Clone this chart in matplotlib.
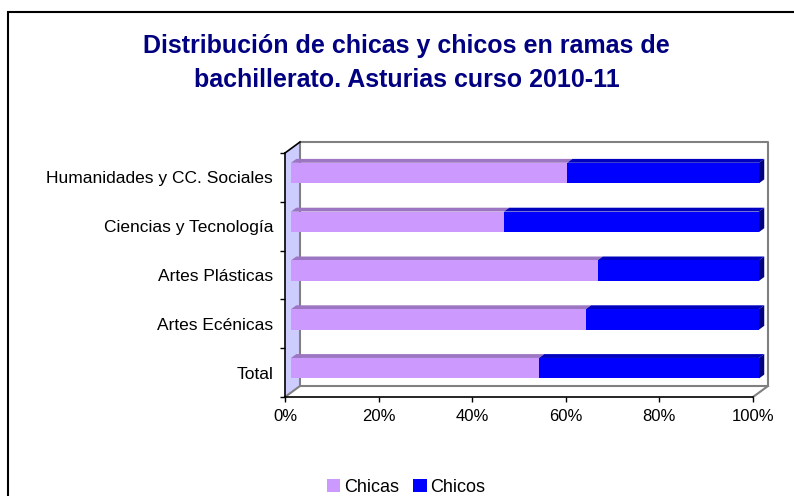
import matplotlib
matplotlib.use("Agg")
import matplotlib.pyplot as plt
from matplotlib.patches import Polygon, Rectangle, Patch
import numpy as np

plt.rcParams['font.family'] = ['Liberation Sans', 'DejaVu Sans']

categories = ["Total", "Artes Ecénicas", "Artes Plásticas", "Ciencias y Tecnología", "Humanidades y CC. Sociales"]
chicas = [53.0, 63.0, 65.5, 45.5, 59.0]
chicos = [47.0, 37.0, 34.5, 54.5, 41.0]
xticks = [0, 20, 40, 60, 80, 100]
xticklabels = ["0%", "20%", "40%", "60%", "80%", "100%"]
series_names = ["Chicas", "Chicos"]
title_lines = ["Distribución de chicas y chicos en ramas de", "bachillerato. Asturias curso 2010-11"]

W, H = 794, 496
fig = plt.figure(figsize=(W / 100, H / 100), dpi=100)
fig.patch.set_facecolor("white")

# outer border
fig.patches.append(Rectangle((8 / W, -0.05), 1.1, 1 - 12 / H + 0.05, transform=fig.transFigure,
                             fill=False, edgecolor="black", linewidth=1.5, zorder=0))

# axes = front plane
x0, x1, ytop, ybot = 285, 753, 153, 397
ax = fig.add_axes([x0 / W, 1 - ybot / H, (x1 - x0) / W, (ybot - ytop) / H])
ax.set_xlim(0, 100)
ax.set_ylim(-0.5, len(categories) - 0.5)
for s in ax.spines.values():
    s.set_visible(False)
ax.patch.set_alpha(0)

pxx = 100 / (x1 - x0)
pxy = len(categories) / (ybot - ytop)
DX, DY = 15 * pxx, 11 * pxy
lo, hi = -0.5, len(categories) - 0.5

# left wall
ax.add_patch(Polygon([(0, hi), (DX, hi + DY), (DX, lo + DY), (0, lo)], closed=True,
                     facecolor="#CCCCFF", edgecolor="none", zorder=1, clip_on=False))
# back wall outline
ax.plot([DX, DX, 100 + DX, 100 + DX, DX], [lo + DY, hi + DY, hi + DY, lo + DY, lo + DY],
        color="#808080", lw=1.5, zorder=1.5, clip_on=False, solid_capstyle="butt")
# floor diagonals
ax.plot([0, DX], [lo, lo + DY], color="#808080", lw=1.5, zorder=1.5, clip_on=False)
ax.plot([100, 100 + DX], [lo, lo + DY], color="#808080", lw=1.5, zorder=1.5, clip_on=False)
# front axis lines
ax.plot([0, 0], [lo, hi], color="black", lw=1.2, zorder=2, clip_on=False)
ax.plot([0, DX], [hi, hi + DY], color="black", lw=1.2, zorder=2, clip_on=False)
ax.plot([0, 100], [lo, lo], color="black", lw=1.2, zorder=2, clip_on=False)

# bars
f, b = 0.4, 0.75
h = 0.42
ypos = np.arange(len(categories))
front_cols = ["#CC99FF", "#0000FF"]
top_cols = ["#9C76C2", "#0000BF"]
side_col = "#000080"
lefts = [np.zeros(len(categories)), np.array(chicas)]
vals = [chicas, chicos]
for si in range(2):
    for i, y in enumerate(ypos):
        l = lefts[si][i]
        r = l + vals[si][i]
        yt = y + h / 2
        ax.add_patch(Polygon([(l + f * DX, yt + f * DY), (r + f * DX, yt + f * DY),
                              (r + b * DX, yt + b * DY), (l + b * DX, yt + b * DY)],
                             closed=True, facecolor=top_cols[si], edgecolor="none",
                             zorder=3, clip_on=False))
        if si == 1:
            yb = y - h / 2
            ax.add_patch(Polygon([(r + f * DX, yb + f * DY), (r + f * DX, yt + f * DY),
                                  (r + b * DX, yt + b * DY), (r + b * DX, yb + b * DY)],
                                 closed=True, facecolor=side_col, edgecolor="none",
                                 zorder=3, clip_on=False))
    ax.barh(ypos + f * DY, vals[si], height=h, left=lefts[si] + f * DX,
            color=front_cols[si], edgecolor="none", zorder=4, clip_on=False)

# ticks
ax.set_yticks(ypos)
ax.set_yticklabels(categories, fontsize=12.5)
ax.tick_params(axis="y", length=0, pad=8.5)
ax.set_yticks(np.arange(lo, hi + 0.01, 1), minor=True)
ax.tick_params(axis="y", which="minor", length=3.6, width=1, color="black", direction="out")
ax.set_xticks(xticks)
ax.set_xticklabels(xticklabels, fontsize=12)
ax.tick_params(axis="x", length=3.6, width=1, color="black", pad=5)

# title
for k, (line, base) in enumerate(zip(title_lines, [53, 87])):
    fig.text(406.5 / W, 1 - base / H, line, ha="center", va="baseline",
             fontsize=18, fontweight="bold", color="#000080")

# legend
handles = [Patch(facecolor=front_cols[0], edgecolor="none"), Patch(facecolor=front_cols[1], edgecolor="none")]
fig.legend(handles, series_names, loc="center", bbox_to_anchor=(406 / W, 1 - 487 / H), ncol=2,
           frameon=False, fontsize=13, handlelength=0.75, handleheight=0.75,
           handletextpad=0.2, columnspacing=0.8, borderpad=0)

fig.savefig("out.png", dpi=100)
